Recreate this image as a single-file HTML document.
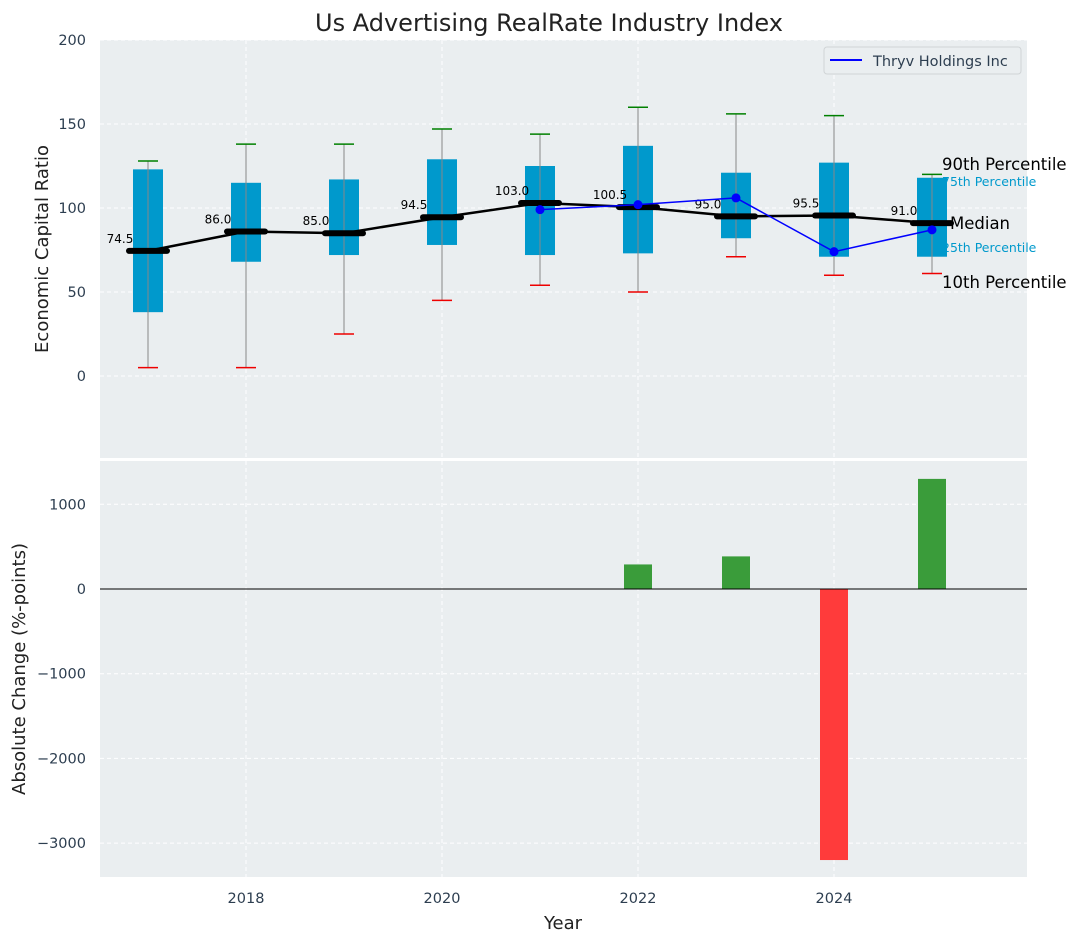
<!DOCTYPE html>
<html><head><meta charset="utf-8"><style>
body{margin:0;background:#fff;font-family:"Liberation Sans","DejaVu Sans",sans-serif}
svg text{font-family:"DejaVu Sans","Liberation Sans",sans-serif}
</style></head><body>
<svg id="c" width="1077" height="942" xmlns="http://www.w3.org/2000/svg"></svg>
<script>
const years=[2017,2018,2019,2020,2021,2022,2023,2024,2025];
const p10=[5,5,25,45,54,50,71,60,61];
const q1=[38,68,72,78,72,73,82,71,71];
const med=[74.5,86.0,85.0,94.5,103.0,100.5,95.0,95.5,91.0];
const q3=[123,115,117,129,125,137,121,127,118];
const p90=[128,138,138,147,144,160,156,155,120];
const compYears=[2021,2022,2023,2024,2025];
const compVals=[99,102,106,74,87];
const barYears=[2022,2023,2024,2025];
const barVals=[290,385,-3200,1300];
const topTicks=[0,50,100,150,200];
const botTicks=[-3000,-2000,-1000,0,1000];
const xTicks=[2018,2020,2022,2024];

const NS="http://www.w3.org/2000/svg",svg=document.getElementById('c');
function el(t,a,txt,p){const e=document.createElementNS(NS,t);for(const k in a)e.setAttribute(k,a[k]);if(txt!=null)e.textContent=txt;(p||svg).appendChild(e);return e;}
const L=100,R=1027;
const x=v=>148+(v-2017)*98;
const yT=v=>376-v*1.68;
const yB=v=>589-v*0.0847;
let e=el('rect',{x:L,y:40,width:R-L,height:418,fill:'#eaeef0'});

e=el('rect',{x:L,y:461,width:R-L,height:416,fill:'#eaeef0'});

xTicks.forEach(t=>{
 el('line',{x1:x(t),x2:x(t),y1:40,y2:458,stroke:'#fff','stroke-dasharray':'4,3','stroke-width':1});
 el('line',{x1:x(t),x2:x(t),y1:461,y2:877,stroke:'#fff','stroke-dasharray':'4,3','stroke-width':1});
 e=el('text',{x:x(t),y:903,'font-size':14.5,fill:'#2d3e50','text-anchor':'middle'},t);
 
});
topTicks.forEach(t=>{
 el('line',{x1:L,x2:R,y1:yT(t),y2:yT(t),stroke:'#fff','stroke-dasharray':'4,3'});
 e=el('text',{x:86,y:yT(t)+5,'font-size':14.5,fill:'#2d3e50','text-anchor':'end'},t);
 
});
botTicks.forEach(t=>{
 el('line',{x1:L,x2:R,y1:yB(t),y2:yB(t),stroke:'#fff','stroke-dasharray':'4,3'});
 e=el('text',{x:86,y:yB(t)+5,'font-size':14.5,fill:'#2d3e50','text-anchor':'end'},String(t).replace('-','\u2212'));
 
});
[['90th Percentile',942,170,16.5,'#000'],['75th Percentile',942,186,12.5,'#0099cc'],['Median',950,229,16.5,'#000'],['25th Percentile',942,252,12.5,'#0099cc'],['10th Percentile',942,288,16.5,'#000']].forEach(a=>{
 e=el('text',{x:a[1],y:a[2],'font-size':a[3],fill:a[4]},a[0]);
 
});
years.forEach((yr,i)=>{
 const cx=x(yr);
 e=el('rect',{x:cx-15,y:yT(q3[i]),width:30,height:yT(q1[i])-yT(q3[i]),fill:'#0099cc'});
 
 e=el('line',{x1:cx,x2:cx,y1:yT(p10[i]),y2:yT(p90[i]),stroke:'#888','stroke-width':1});
 
 e=el('line',{x1:cx-10,x2:cx+10,y1:yT(p10[i]),y2:yT(p10[i]),stroke:'#e00','stroke-width':1.5});
 
 e=el('line',{x1:cx-10,x2:cx+10,y1:yT(p90[i]),y2:yT(p90[i]),stroke:'green','stroke-width':1.5});
 
});
e=el('polyline',{points:years.map((yr,i)=>x(yr)+','+yT(med[i])).join(' '),fill:'none',stroke:'#000','stroke-width':2.5});

years.forEach((yr,i)=>{
 e=el('line',{x1:x(yr)-19,x2:x(yr)+19,y1:yT(med[i]),y2:yT(med[i]),stroke:'#000','stroke-width':6,'stroke-linecap':'round'});
 
 e=el('text',{x:x(yr)-28,y:yT(med[i])-8,'font-size':12,fill:'#000','text-anchor':'middle'},med[i].toFixed(1));
 
});
e=el('polyline',{points:compYears.map((yr,i)=>x(yr)+','+yT(compVals[i])).join(' '),fill:'none',stroke:'#0000ff','stroke-width':1.5});

compYears.forEach((yr,i)=>{
 e=el('circle',{cx:x(yr),cy:yT(compVals[i]),r:4.5,fill:'#0000ff'});
 
});
const lg=el('g',{});
el('rect',{x:824,y:47,width:197,height:27,rx:3,fill:'#eaeef0',stroke:'#d0d4d6'},null,lg);
el('line',{x1:830,x2:862,y1:60,y2:60,stroke:'#0000ff','stroke-width':2},null,lg);
e=el('text',{x:873,y:66,'font-size':14.5,fill:'#2d3e50'},'Thryv Holdings Inc',lg);

barYears.forEach((yr,i)=>{
 const v=barVals[i];
 e=el('rect',{x:x(yr)-14,y:Math.min(yB(v),yB(0)),width:28,height:Math.abs(yB(v)-yB(0)),fill:v>=0?'#3a9c3a':'#ff3b3b'});
 
});
el('line',{x1:L,x2:R,y1:yB(0),y2:yB(0),stroke:'#000','stroke-width':1});
e=el('text',{x:549,y:31,'font-size':24,fill:'#222','text-anchor':'middle'},'Us Advertising RealRate Industry Index');

e=el('text',{x:0,y:0,'font-size':18,fill:'#222','text-anchor':'middle',transform:'translate(48,249) rotate(-90)'},'Economic Capital Ratio');

e=el('text',{x:0,y:0,'font-size':18,fill:'#222','text-anchor':'middle',transform:'translate(25,669) rotate(-90)'},'Absolute Change (%-points)');

e=el('text',{x:563,y:929,'font-size':18,fill:'#222','text-anchor':'middle'},'Year');

</script>
</body></html>
